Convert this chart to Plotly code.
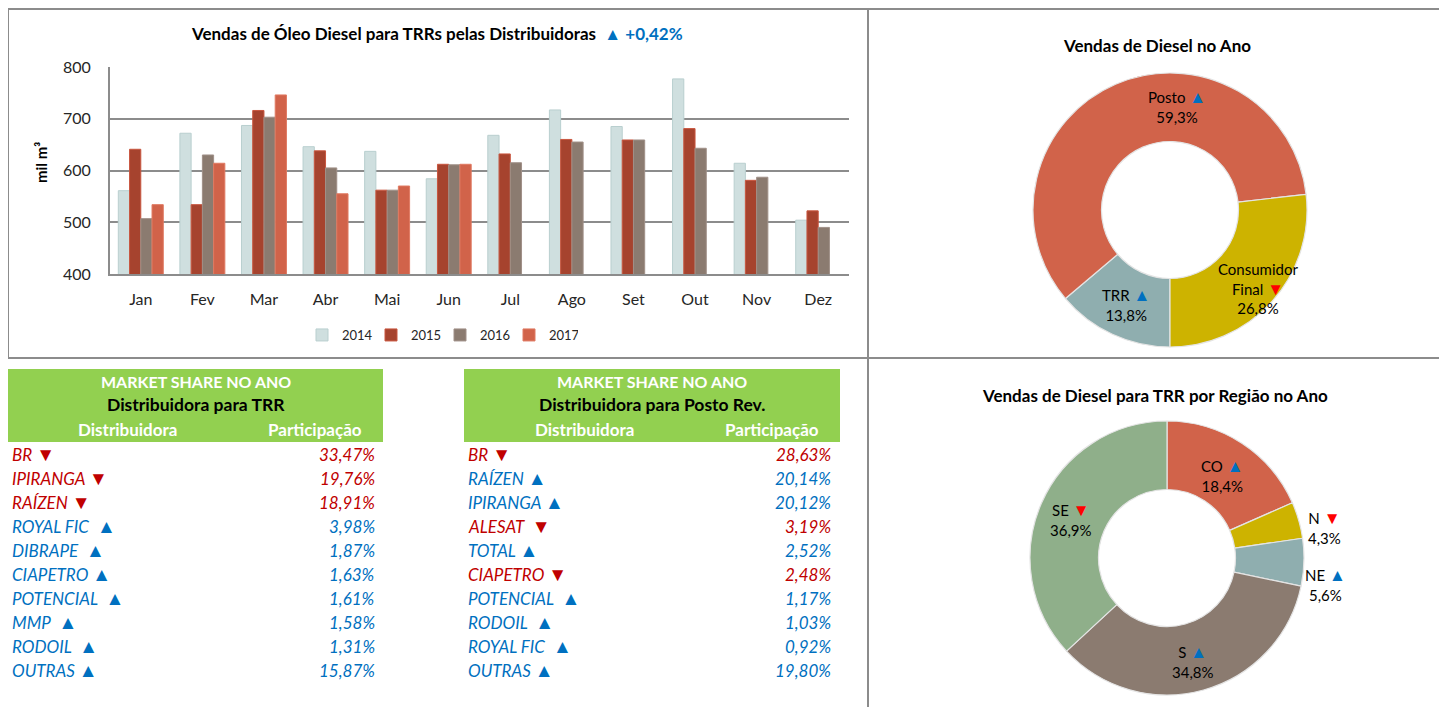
import plotly.graph_objects as go

W, H = 1447, 707
OFF = 8  # page body margin
FONT = "Lato, 'Noto Sans', sans-serif"
BLUE = "#0070C0"
DRED = "#C00000"
RED = "#FF0000"
GREEN = "#92D050"
GRID = "#8C8C8C"

# ---------------- data ----------------
months = ["Jan", "Fev", "Mar", "Abr", "Mai", "Jun", "Jul", "Ago", "Set", "Out", "Nov", "Dez"]
years = ["2014", "2015", "2016", "2017"]
v2014 = [561, 672, 687, 646, 637, 584, 668, 717, 685, 777, 614, 504]
v2015 = [641, 534, 716, 638, 562, 612, 632, 660, 659, 681, 581, 522]
v2016 = [507, 630, 703, 605, 562, 611, 615, 655, 659, 643, 587, 490]
v2017 = [534, 614, 746, 555, 570, 612, None, None, None, None, None, None]
title_change = 0.42

pie1_labels = ["TRR", "Posto", "Consumidor<br>Final"]
pie1_values = [13.8, 59.3, 26.8]
pie1_trend = ["up", "up", "down"]

pie2_labels = ["CO", "N", "NE", "S", "SE"]
pie2_values = [18.4, 4.3, 5.6, 34.8, 36.9]
pie2_trend = ["up", "down", "up", "up", "down"]

trr_names = ["BR", "IPIRANGA", "RAÍZEN", "ROYAL FIC", "DIBRAPE", "CIAPETRO", "POTENCIAL", "MMP", "RODOIL", "OUTRAS"]
trr_share = [33.47, 19.76, 18.91, 3.98, 1.87, 1.63, 1.61, 1.58, 1.31, 15.87]
trr_trend = ["down", "down", "down", "up", "up", "up", "up", "up", "up", "up"]

posto_names = ["BR", "RAÍZEN", "IPIRANGA", "ALESAT", "TOTAL", "CIAPETRO", "POTENCIAL", "RODOIL", "ROYAL FIC", "OUTRAS"]
posto_share = [28.63, 20.14, 20.12, 3.19, 2.52, 2.48, 1.17, 1.03, 0.92, 19.80]
posto_trend = ["down", "up", "up", "down", "up", "down", "up", "up", "up", "up"]

# ---------------- styles / layout constants ----------------
bar_colors = ["#CFDFDF", "#A6432E", "#8B7B70", "#D1634A"]
bar_lines = ["#B9CFCF", "#C9563F", "#A09088", "#E07A62"]
pie1_colors = ["#8FAEAF", "#D1634A", "#CDB300"]
pie2_colors = ["#D1634A", "#CDB300", "#8FAEAF", "#8B7B70", "#8FAF8A"]
pie1_label_pos = [(1126, 304), (1177, 106), (1258, 288)]
pie2_label_pos = [(1222, 475), (1324, 527), (1325, 584), (1193, 661), (1071, 519)]
trr_gap = [1, 1, 1, 2, 2, 1, 2, 2, 2, 1]
posto_gap = [1, 1, 1, 2, 1, 1, 2, 2, 2, 1]


def px(x):
    return (x - OFF) / W


def py(y):
    return 1 - (y - OFF) / H


def pct(v, nd=2):
    return f"{v:.{nd}f}".replace(".", ",") + "%"


def tri(t, up_color=BLUE, down_color=RED, size=17):
    sym = '▲' if t == 'up' else '▼'
    col = up_color if t == 'up' else down_color
    return f"<span style='color:{col};font-size:{size}px'>{sym}</span>"


fig = go.Figure()
ann = []
shapes = []

# ---------------- bar chart ----------------
for yr, vals, c, lc in zip(years, [v2014, v2015, v2016, v2017], bar_colors, bar_lines):
    fig.add_trace(go.Bar(x=months, y=vals, name=yr, marker=dict(color=c, line=dict(color=lc, width=1)),
                         xaxis="x", yaxis="y"))

# ---------------- donuts ----------------
fig.add_trace(go.Pie(values=pie1_values, labels=pie1_labels, hole=0.5, sort=False, direction="clockwise",
                     rotation=180, textinfo="none", showlegend=False, hoverinfo="label+percent",
                     marker=dict(colors=pie1_colors, line=dict(color="#E4E4E4", width=1.2)),
                     domain=dict(x=[px(1033), px(1307)], y=[py(347), py(73)])))
fig.add_trace(go.Pie(values=pie2_values, labels=pie2_labels, hole=0.5, sort=False, direction="clockwise",
                     rotation=0, textinfo="none", showlegend=False, hoverinfo="label+percent",
                     marker=dict(colors=pie2_colors, line=dict(color="#E4E4E4", width=1.2)),
                     domain=dict(x=[px(1030), px(1304)], y=[py(695), py(421)])))


# ---------------- tables ----------------
def add_table(x0, x1, col1_c, col2_c, val_right, names, shares, trends, gaps, subtitle):
    shapes.append(dict(type="rect", xref="paper", yref="paper", x0=px(x0), x1=px(x1), y0=py(442), y1=py(369),
                       fillcolor=GREEN, line=dict(width=0), layer="below"))
    cx = (x0 + x1) / 2
    ann.append(dict(x=px(cx), y=py(381), text="<b>MARKET SHARE NO ANO</b>", font=dict(color="white", size=16)))
    ann.append(dict(x=px(cx), y=py(405), text=f"<b>{subtitle}</b>", font=dict(color="black", size=17.5)))
    ann.append(dict(x=px(col1_c), y=py(430), text="<b>Distribuidora</b>", font=dict(color="white", size=17)))
    ann.append(dict(x=px(col2_c), y=py(430), text="<b>Participação</b>", font=dict(color="white", size=17)))
    for i, (n, s, t, g) in enumerate(zip(names, shares, trends, gaps)):
        col = DRED if t == "down" else BLUE
        y = 453 + 24 * i
        ann.append(dict(x=px(x0 + 2), y=py(y), xanchor="left",
                        text=f"<i>{n}{chr(160) * g}</i>{tri(t, col, col, 19)}",
                        font=dict(color=col, size=17)))
        ann.append(dict(x=px(val_right), y=py(y + 1), xanchor="right", text=f"<i>{pct(s)}</i>",
                        font=dict(color=col, size=17)))


add_table(8, 383, 127, 315, 377, trr_names, trr_share, trr_trend, trr_gap, "Distribuidora para TRR")
add_table(464, 840, 584, 772, 833, posto_names, posto_share, posto_trend, posto_gap,
          "Distribuidora para Posto Rev.")

# ---------------- titles & labels ----------------
ann.append(dict(x=px(437), y=py(33), text=f"<b>Vendas de Óleo Diesel para TRRs pelas Distribuidoras  "
                                           f"<span style='color:{BLUE}'>▲ +{pct(title_change)}</span></b>",
                font=dict(size=17, color="black")))
ann.append(dict(x=px(41), y=py(163), text="<b>mil m³</b>", textangle=-90, font=dict(size=15, color="black")))
ann.append(dict(x=px(1157), y=py(45), text="<b>Vendas de Diesel no Ano</b>", font=dict(size=17, color="black")))
ann.append(dict(x=px(1155), y=py(395), text="<b>Vendas de Diesel para TRR por Região no Ano</b>",
                font=dict(size=17, color="black")))
for lab, v, t, (x, y) in zip(pie1_labels, pie1_values, pie1_trend, pie1_label_pos):
    ann.append(dict(x=px(x), y=py(y), text=f"{lab} {tri(t)}<br>{pct(v, 1)}", font=dict(size=15, color="black")))
for lab, v, t, (x, y) in zip(pie2_labels, pie2_values, pie2_trend, pie2_label_pos):
    ann.append(dict(x=px(x), y=py(y), text=f"{lab} {tri(t)}<br>{pct(v, 1)}", font=dict(size=15, color="black")))
for a in ann:
    a.setdefault("xanchor", "center")
    a.setdefault("yanchor", "middle")
    a.update(xref="paper", yref="paper", showarrow=False)
    a["font"]["family"] = FONT

# ---------------- panel borders ----------------
for (x0, y0, x1, y1) in [(8, 9, 1460, 9), (8, 9, 8, 358), (8, 358, 1460, 358), (868, 9, 868, 720)]:
    shapes.append(dict(type="line", xref="paper", yref="paper", x0=px(x0), y0=py(y0), x1=px(x1), y1=py(y1),
                       line=dict(color=GRID, width=2)))

fig.update_layout(
    width=W, height=H, margin=dict(l=0, r=0, t=0, b=0, autoexpand=False), paper_bgcolor="white",
    plot_bgcolor="white",
    font=dict(family=FONT, color="#262626"),
    barmode="group", bargap=0.27, bargroupgap=0,
    xaxis=dict(domain=[px(110), px(849)], anchor="y", showline=True, linecolor=GRID, linewidth=2,
               ticks="", tickfont=dict(size=16, color="#262626"), ticklabelstandoff=10, fixedrange=True),
    yaxis=dict(domain=[py(274), py(67)], anchor="x", range=[400, 800], dtick=100, showgrid=True,
               gridcolor=GRID, gridwidth=1.5, showline=True, linecolor=GRID, linewidth=2, ticks="",
               tickfont=dict(size=16, color="#262626"), ticklabelstandoff=14, zeroline=False, fixedrange=True),
    legend=dict(orientation="h", x=px(440), xanchor="center", y=py(335), yanchor="middle",
                font=dict(size=13, color="#262626"), itemwidth=30, entrywidth=24, tracegroupgap=0),
    annotations=ann, shapes=shapes,
)

fig.write_html("out.html")
